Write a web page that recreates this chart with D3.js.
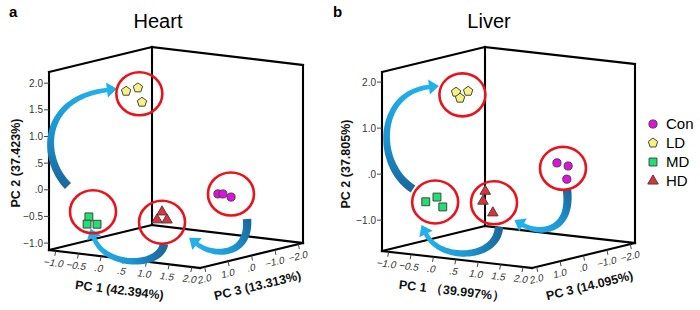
<!DOCTYPE html>
<html><head><meta charset="utf-8">
<script src="https://cdn.jsdelivr.net/npm/d3@7"></script>
<style>body{margin:0;background:#fff}svg{display:block}</style>
</head><body><svg id="c" width="700" height="310"></svg>
<script>
// ---------------- data ----------------
const groups = ["Con", "LD", "MD", "HD"];
const panelNames = ["Heart", "Liver"];
const panelLetters = ["a", "b"];
const pc1Titles = ["PC 1 (42.394%)", "PC 1 \uFF0839.997%\uFF09"];
const pc2Titles = ["PC 2 (37.423%)", "PC 2 (37.805%)"];
const pc3Titles = ["PC 3 (13.313%)", "PC 3 (14.095%)"];
const pc1Ticks = [[-1, -0.5, 0, 0.5, 1, 1.5, 2], [-1, -0.5, 0, 0.5, 1, 1.5, 2]];
const pc2Ticks = [[-1, -0.5, 0, 0.5, 1, 1.5, 2], [-1, 0, 1, 2]];
const pc3Ticks = [[2, 1, 0, -1, -2], [2, 1, 0, -1, -2]];
const pc1Domain = [[-1.15, 2.18], [-1.15, 2.2]];
const pc2Domain = [[-1.13, 2.21], [-1.67, 2.22]];
const pc3Domain = [[2.2, -2.2], [2.2, -2.2]];

const sampleGroup = ["LD", "LD", "LD", "Con", "Con", "Con", "MD", "MD", "MD", "HD", "HD", "HD"];
const heartPC1 = [-0.43, -0.17, -0.08, 0.82, 0.93, 1.11, -0.89, -0.93, -0.71, 0.31, 0.20, 0.42];
const heartPC2 = [1.72, 1.81, 1.55, -0.24, -0.23, -0.27, -0.61, -0.75, -0.73, -0.48, -0.64, -0.62];
const heartPC3 = [0.3, 0.3, 0.3, -1.2, -1.2, -1.2, 1.0, 1.0, 1.0, 0.2, 0.2, 0.2];
const liverPC1 = [-0.49, -0.40, -0.22, 0.98, 1.23, 1.20, -0.80, -0.55, -0.42, 0.11, 0.06, 0.28];
const liverPC2 = [1.62, 1.50, 1.67, 0.06, 0.02, -0.27, -0.71, -0.58, -0.78, -0.48, -0.70, -0.93];
const liverPC3 = [0.3, 0.3, 0.3, -1.2, -1.2, -1.2, 1.0, 1.0, 1.0, 0.2, 0.2, 0.2];
const panelPC1 = [heartPC1, liverPC1];
const panelPC2 = [heartPC2, liverPC2];
const panelPC3 = [heartPC3, liverPC3];

// group-to-group transitions shown by the curved arrows
const arrowFrom = ["MD", "HD", "Con"];
const arrowTo = ["LD", "MD", "HD"];

// ---------------- layout / style ----------------
const geom = [
  {ox: 49, oy: 250, e1: [151, 18], e3: [103, -25], h: 178, letterX: 9, pc2X: 16, titleX: 158},
  {ox: 382, oy: 251, e1: [150, 17], e3: [103, -25], h: 179, letterX: 333, pc2X: 346, titleX: 489}
];
// ring offsets relative to group centroid (annotation layout)
const ringOffset = [
  {Con: [7, -1], LD: [4, 0], MD: [2, -10], HD: [0, 5]},
  {Con: [-1, -1], LD: [1, 1], MD: [0, 0], HD: [7, 1]}
];
// arrow bezier control points, panel-local (annotation layout)
const arrowShapes = [
  [
    [[19, -64], [-9, -92], [-8, -152], [58, -160]],
    [[115, -6], [111, 18], [56, 18], [45, -12]],
    [[198, -31], [201, 5], [166, 8], [148, -6]]
  ],
  [
    [[31, -62], [-7, -86], [-6, -158], [47, -164]],
    [[117, -24], [115, 9], [58, 11], [44, -17]],
    [[185, -61], [190, -19], [158, -16], [141, -26]]
  ]
];
const fillColor = {Con: "#e010e0", LD: "#f6f27e", MD: "#20e070", HD: "#e2303c"};
const FONT = "'Liberation Sans', Arial, Helvetica, sans-serif";

const pentagon = {
  draw(ctx, size) {
    const r = Math.sqrt(size / 2.378);
    for (let i = 0; i < 5; i++) {
      const a = -Math.PI / 2 + i * 2 * Math.PI / 5;
      const x = r * Math.cos(a), y = r * Math.sin(a);
      i ? ctx.lineTo(x, y) : ctx.moveTo(x, y);
    }
    ctx.closePath();
  }
};
const symType = {Con: d3.symbolCircle, LD: pentagon, MD: d3.symbolSquare, HD: d3.symbolTriangle};
const symSize = {Con: 52, LD: 58, MD: 62, HD: 48};

const fmt = v => d3.format(".1f")(v).replace(/^(-?)0\./, "$1.");

const svg = d3.select("#c");
const defs = svg.append("defs");

panelNames.forEach((name, pi) => {
  const G = geom[pi];
  const s1 = d3.scaleLinear().domain(pc1Domain[pi]).range([0, 1]);
  const s2 = d3.scaleLinear().domain(pc2Domain[pi]).range([0, 1]);
  const s3 = d3.scaleLinear().domain(pc3Domain[pi]).range([0, 1]);
  const proj = (a, b, c) => {
    const f1 = s1(a), f2 = s2(b), f3 = s3(c);
    return [f1 * G.e1[0] + f3 * G.e3[0], f1 * G.e1[1] + f3 * G.e3[1] - f2 * G.h];
  };
  const g = svg.append("g").attr("transform", `translate(${G.ox},${G.oy})`);

  // box
  const L = [0, 0], F = G.e1, B = G.e3, R = [G.e1[0] + G.e3[0], G.e1[1] + G.e3[1]];
  const up = p => [p[0], p[1] - G.h];
  const segs = [[L, F], [F, R], [L, B], [B, R], [L, up(L)], [B, up(B)], [R, up(R)], [up(L), up(B)], [up(B), up(R)]];
  g.selectAll("line.box").data(segs).join("line").attr("class", "box")
    .attr("x1", d => d[0][0]).attr("y1", d => d[0][1]).attr("x2", d => d[1][0]).attr("y2", d => d[1][1])
    .attr("stroke", "#000").attr("stroke-width", 2.1).attr("stroke-linecap", "square");

  // PC2 ticks
  const y2 = d => -s2(d) * G.h;
  g.selectAll("line.t2").data(pc2Ticks[pi]).join("line").attr("class", "t2")
    .attr("x1", -5).attr("x2", 0).attr("y1", y2).attr("y2", y2).attr("stroke", "#444").attr("stroke-width", 1);
  g.selectAll("text.t2").data(pc2Ticks[pi]).join("text").attr("class", "t2")
    .attr("x", -6).attr("y", d => y2(d) + 3.5).attr("text-anchor", "end")
    .attr("font-family", FONT).attr("font-size", 10).attr("fill", "#333").text(fmt);

  // PC1 ticks
  const a1 = Math.atan2(G.e1[1], G.e1[0]) * 180 / Math.PI;
  const p1 = d => [s1(d) * G.e1[0], s1(d) * G.e1[1]];
  g.selectAll("line.t1").data(pc1Ticks[pi]).join("line").attr("class", "t1")
    .attr("x1", d => p1(d)[0]).attr("y1", d => p1(d)[1]).attr("x2", d => p1(d)[0] - 1).attr("y2", d => p1(d)[1] + 5)
    .attr("stroke", "#444");
  g.selectAll("text.t1").data(pc1Ticks[pi]).join("text").attr("class", "t1")
    .attr("transform", d => `translate(${p1(d)[0] - 2},${p1(d)[1] + 12}) rotate(${a1}) skewX(-12)`)
    .attr("dy", "0.35em").attr("text-anchor", "middle")
    .attr("font-family", FONT).attr("font-size", 10).attr("fill", "#333").text(fmt);

  // PC3 ticks
  const a3 = Math.atan2(G.e3[1], G.e3[0]) * 180 / Math.PI;
  const p3 = d => [G.e1[0] + s3(d) * G.e3[0], G.e1[1] + s3(d) * G.e3[1]];
  g.selectAll("line.t3").data(pc3Ticks[pi]).join("line").attr("class", "t3")
    .attr("x1", d => p3(d)[0]).attr("y1", d => p3(d)[1]).attr("x2", d => p3(d)[0] + 1).attr("y2", d => p3(d)[1] + 5)
    .attr("stroke", "#444");
  g.selectAll("text.t3").data(pc3Ticks[pi]).join("text").attr("class", "t3")
    .attr("transform", d => `translate(${p3(d)[0]},${p3(d)[1] + 12}) rotate(${a3}) skewX(-12)`)
    .attr("dy", "0.35em").attr("text-anchor", "middle")
    .attr("font-family", FONT).attr("font-size", 10).attr("fill", "#333").text(fmt);

  // axis titles
  g.append("text").attr("transform", `translate(${G.e1[0] / 2 - 5},${G.e1[1] / 2 + 31}) rotate(${a1})`)
    .attr("text-anchor", "middle").attr("dy", "0.35em").attr("font-family", FONT).attr("font-weight", "bold")
    .attr("font-size", 12.5).attr("fill", "#111").text(pc1Titles[pi]);
  g.append("text").attr("transform", `translate(${G.e1[0] + G.e3[0] / 2 + 6},${G.e1[1] + G.e3[1] / 2 + 30}) rotate(${a3})`)
    .attr("text-anchor", "middle").attr("dy", "0.35em").attr("font-family", FONT).attr("font-weight", "bold")
    .attr("font-size", 12.5).attr("fill", "#111").text(pc3Titles[pi]);
  svg.append("text").attr("transform", `translate(${G.pc2X},${G.oy - 87}) rotate(-90)`)
    .attr("text-anchor", "middle").attr("dy", "0.35em").attr("font-family", FONT).attr("font-weight", "bold")
    .attr("font-size", 12.5).attr("fill", "#111").text(pc2Titles[pi]);

  // panel title and letter
  svg.append("text").attr("x", G.titleX).attr("y", 28).attr("text-anchor", "middle")
    .attr("font-family", FONT).attr("font-size", 20).attr("fill", "#000").text(name);
  svg.append("text").attr("x", G.letterX).attr("y", 17)
    .attr("font-family", FONT).attr("font-weight", "bold").attr("font-size", 15).attr("fill", "#000").text(panelLetters[pi]);

  // projected points
  const pts = sampleGroup.map((grp, i) => {
    const p = proj(panelPC1[pi][i], panelPC2[pi][i], panelPC3[pi][i]);
    return {grp, x: p[0], y: p[1]};
  });
  const centers = {};
  groups.forEach(grp => {
    const sub = pts.filter(p => p.grp === grp);
    const off = ringOffset[pi][grp];
    centers[grp] = [d3.mean(sub, p => p.x) + off[0], d3.mean(sub, p => p.y) + off[1]];
  });

  // arrows
  const ag = svg.append("g").attr("transform", `translate(${G.ox},${G.oy})`);
  arrowFrom.forEach((from, ai) => {
    const [P0, C1, C2, P3] = arrowShapes[pi][ai];
    const N = 40, wT = 8.5, wH = 4.5, hl = 10, hw = 7.5;
    const bez = t => {
      const u = 1 - t;
      return [u * u * u * P0[0] + 3 * u * u * t * C1[0] + 3 * u * t * t * C2[0] + t * t * t * P3[0],
              u * u * u * P0[1] + 3 * u * u * t * C1[1] + 3 * u * t * t * C2[1] + t * t * t * P3[1]];
    };
    const der = t => {
      const u = 1 - t;
      return [3 * u * u * (C1[0] - P0[0]) + 6 * u * t * (C2[0] - C1[0]) + 3 * t * t * (P3[0] - C2[0]),
              3 * u * u * (C1[1] - P0[1]) + 6 * u * t * (C2[1] - C1[1]) + 3 * t * t * (P3[1] - C2[1])];
    };
    const left = [], right = [];
    for (let i = 0; i <= N; i++) {
      const t = i / N, p = bez(t), d = der(t), len = Math.hypot(d[0], d[1]);
      const n = [-d[1] / len, d[0] / len], w = (wT * (1 - t) + wH * t) / 2;
      left.push([p[0] + n[0] * w, p[1] + n[1] * w]);
      right.push([p[0] - n[0] * w, p[1] - n[1] * w]);
    }
    const d1 = der(1), l1 = Math.hypot(d1[0], d1[1]), u1 = [d1[0] / l1, d1[1] / l1], n1 = [-u1[1], u1[0]];
    const tip = [P3[0] + u1[0] * hl, P3[1] + u1[1] * hl];
    const hL = [P3[0] + n1[0] * hw, P3[1] + n1[1] * hw], hR = [P3[0] - n1[0] * hw, P3[1] - n1[1] * hw];
    const poly = left.concat([hL, tip, hR]).concat(right.slice().reverse());
    const gid = `ag${pi}_${ai}`;
    const grad = defs.append("linearGradient").attr("id", gid).attr("gradientUnits", "userSpaceOnUse")
      .attr("x1", P0[0]).attr("y1", P0[1]).attr("x2", P3[0]).attr("y2", P3[1]);
    grad.append("stop").attr("offset", 0).attr("stop-color", "#1a6a9e");
    grad.append("stop").attr("offset", 0.45).attr("stop-color", "#1b96d2");
    grad.append("stop").attr("offset", 1).attr("stop-color", "#24b0ea");
    ag.append("path")
      .attr("d", "M" + poly.map(p => p[0].toFixed(2) + "," + p[1].toFixed(2)).join("L") + "Z")
      .attr("fill", `url(#${gid})`).attr("data-from", from).attr("data-to", arrowTo[ai]);
  });

  const top = svg.append("g").attr("transform", `translate(${G.ox},${G.oy})`);
  // rings
  top.selectAll("ellipse").data(groups).join("ellipse")
    .attr("cx", d => centers[d][0]).attr("cy", d => centers[d][1]).attr("rx", 23).attr("ry", 21.5)
    .attr("fill", "none").attr("stroke", "#e8141c").attr("stroke-width", 2.6);
  // points
  top.selectAll("path.pt").data(pts).join("path").attr("class", "pt")
    .attr("transform", d => `translate(${d.x},${d.y})`)
    .attr("d", d => d3.symbol().type(symType[d.grp]).size(symSize[d.grp])())
    .attr("fill", d => fillColor[d.grp]).attr("stroke", "#444").attr("stroke-width", 1);
});

// legend
const lg = svg.append("g").attr("transform", "translate(653,124)");
groups.forEach((grp, i) => {
  lg.append("path").attr("transform", `translate(0,${i * 19})`)
    .attr("d", d3.symbol().type(symType[grp]).size(symSize[grp])())
    .attr("fill", fillColor[grp]).attr("stroke", "#444").attr("stroke-width", 1);
  lg.append("text").attr("x", 13).attr("y", i * 19).attr("dy", "0.36em")
    .attr("font-family", FONT).attr("font-size", 15).attr("fill", "#000").text(grp);
});
</script>
</body></html>
